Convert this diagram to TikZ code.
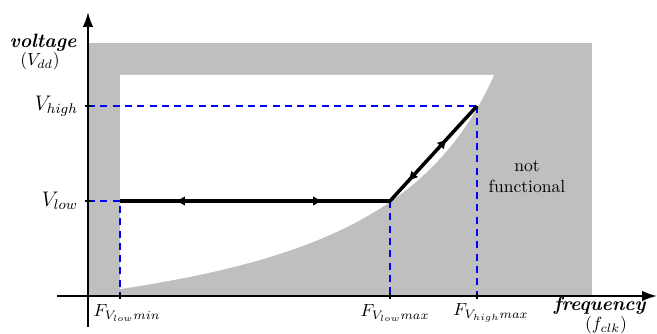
\documentclass[tikz,border=0pt]{standalone}
\usepackage{amsmath,amssymb}
\usetikzlibrary{arrows.meta,decorations.markings}

\tikzset{
  guide/.style={blue, dash pattern=on 4pt off 3pt, line width=0.6pt},
  axisline/.style={line width=1.2pt, -{Latex[length=8.5pt,width=6pt]}},
  opline/.style={line width=2pt, postaction={decorate}},
  tick/.style={line width=1.2pt},
  bigword/.style={font=\fontsize{11}{13}\selectfont},
}

\begin{document}
\begin{tikzpicture}[x=0.2mm, y=0.2mm, >={Latex[length=5.5pt,width=5.5pt]}]
	\useasboundingbox (0,0) rectangle (657,334);
	% operating regions
	\fill[gray!50] (88,38) rectangle (592,291);
	\fill[white] (120,259) -- (120,45) .. controls (320,75) and (435,127) .. (494,259) -- cycle;
	% axes
	\draw[axisline] (88,7) -- (88,322);
	\draw[axisline] (57,38) -- (657,38);
	\coordinate (yhi) at (88,228);
	\coordinate (ylo) at (88,133);
	\coordinate (xmin) at (120,38);
	\coordinate (xlo) at (390,38);
	\coordinate (xhi) at (477,38);
	\coordinate (lo) at (120,133);
	\coordinate (lomax) at (390,133);
	\coordinate (himax) at (477,228);
	% guides
	\draw[guide] (yhi) -- (himax);
	\draw[guide] (himax) -- (xhi);
	\draw[guide] (ylo) -- (lo) -- (xmin);
	\draw[guide] (lomax) -- (xlo);
	\foreach \p in {yhi,ylo}
		\draw[tick] (\p) +(-3,0) -- +(3,0);
	\foreach \p in {xmin,xlo,xhi}
		\draw[tick] (\p) +(0,-3) -- +(0,3);
	% operating path
	\draw[opline, decoration={markings,
		mark=at position 0.163 with {\arrow{<}},
		mark=at position 0.509 with {\arrow{>}},
		mark=at position 0.769 with {\arrow{<}},
		mark=at position 0.889 with {\arrow{>}}}] (lo) -- (lomax) -- (himax);
	% labels
	\node[bigword] (volt) at (43,291) {\textbf{\textit{voltage}}};
	\node (vdd) at (40,273) {$(V_{dd})$};
	\node[anchor=east, font=\large] (vhigh) at (84,228) {$V_{high}$};
	\node[anchor=east, font=\large] (vlow) at (84,133) {$V_{low}$};
	\node (fmin) at (127,21) {$F_{V_{low}min}$};
	\node (flo) at (395,21) {$F_{V_{low}max}$};
	\node (fhi) at (491,21) {$F_{V_{high}max}$};
	\node[bigword] (freq) at (600,28) {\textbf{\textit{frequency}}};
	\node (fclk) at (606,9) {$(f_{clk})$};
	\node[align=center] (nf) at (527,157) {not\\functional};
\end{tikzpicture}
\end{document}
